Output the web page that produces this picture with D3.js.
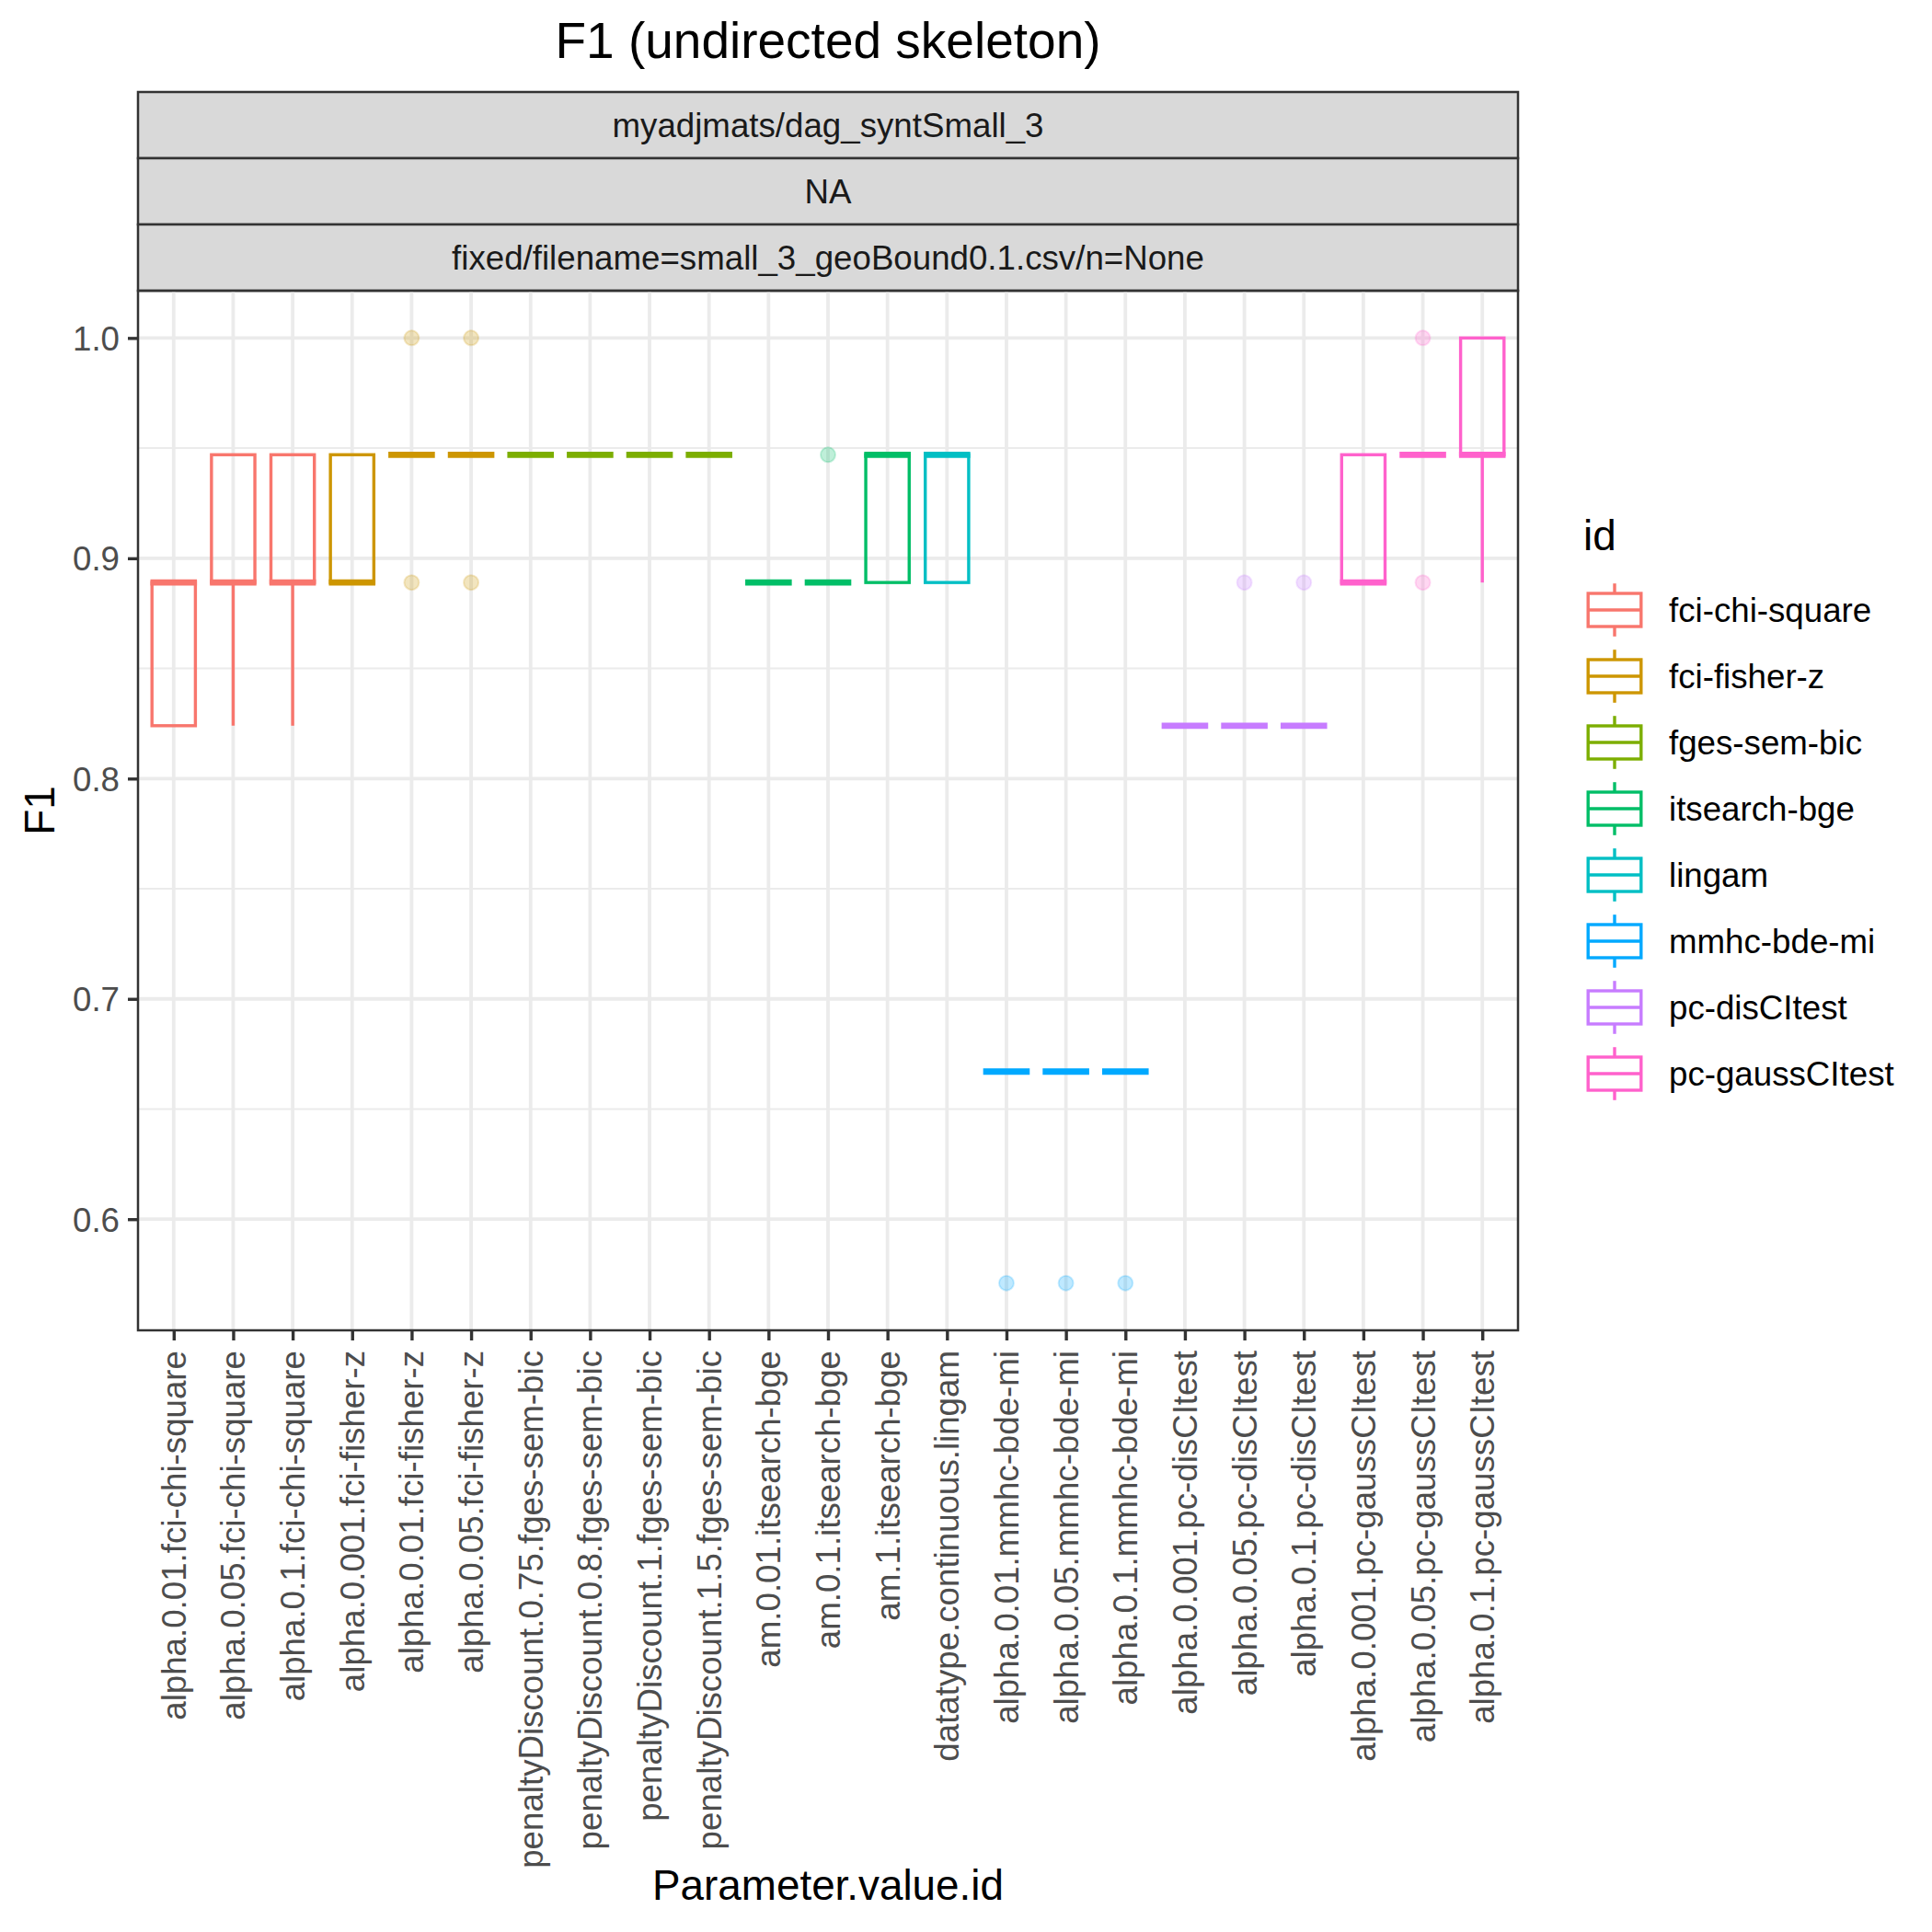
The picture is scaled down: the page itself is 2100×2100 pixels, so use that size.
<!DOCTYPE html>
<html>
<head>
<meta charset="utf-8">
<script src="https://cdn.jsdelivr.net/npm/d3@7"></script>
<style>
  body { margin: 0; background: #fff; }
  svg { font-family: "Liberation Sans", Arial, sans-serif; }
</style>
</head>
<body>
<svg id="chart" width="2100" height="2100"></svg>
<script>
// ---- data ----
const categories = [
  "alpha.0.01.fci-chi-square", "alpha.0.05.fci-chi-square", "alpha.0.1.fci-chi-square",
  "alpha.0.001.fci-fisher-z", "alpha.0.01.fci-fisher-z", "alpha.0.05.fci-fisher-z",
  "penaltyDiscount.0.75.fges-sem-bic", "penaltyDiscount.0.8.fges-sem-bic",
  "penaltyDiscount.1.fges-sem-bic", "penaltyDiscount.1.5.fges-sem-bic",
  "am.0.01.itsearch-bge", "am.0.1.itsearch-bge", "am.1.itsearch-bge",
  "datatype.continuous.lingam",
  "alpha.0.01.mmhc-bde-mi", "alpha.0.05.mmhc-bde-mi", "alpha.0.1.mmhc-bde-mi",
  "alpha.0.001.pc-disCItest", "alpha.0.05.pc-disCItest", "alpha.0.1.pc-disCItest",
  "alpha.0.001.pc-gaussCItest", "alpha.0.05.pc-gaussCItest", "alpha.0.1.pc-gaussCItest"
];
const groups = [
  "fci-chi-square", "fci-chi-square", "fci-chi-square",
  "fci-fisher-z", "fci-fisher-z", "fci-fisher-z",
  "fges-sem-bic", "fges-sem-bic", "fges-sem-bic", "fges-sem-bic",
  "itsearch-bge", "itsearch-bge", "itsearch-bge",
  "lingam",
  "mmhc-bde-mi", "mmhc-bde-mi", "mmhc-bde-mi",
  "pc-disCItest", "pc-disCItest", "pc-disCItest",
  "pc-gaussCItest", "pc-gaussCItest", "pc-gaussCItest"
];
const whiskerLow  = [0.824, 0.824, 0.824, 0.889, 0.947, 0.947, 0.947, 0.947, 0.947, 0.947, 0.889, 0.889, 0.889, 0.889, 0.667, 0.667, 0.667, 0.824, 0.824, 0.824, 0.889, 0.947, 0.889];
const q1          = [0.824, 0.889, 0.889, 0.889, 0.947, 0.947, 0.947, 0.947, 0.947, 0.947, 0.889, 0.889, 0.889, 0.889, 0.667, 0.667, 0.667, 0.824, 0.824, 0.824, 0.889, 0.947, 0.947];
const medians     = [0.889, 0.889, 0.889, 0.889, 0.947, 0.947, 0.947, 0.947, 0.947, 0.947, 0.889, 0.889, 0.947, 0.947, 0.667, 0.667, 0.667, 0.824, 0.824, 0.824, 0.889, 0.947, 0.947];
const q3          = [0.889, 0.947, 0.947, 0.947, 0.947, 0.947, 0.947, 0.947, 0.947, 0.947, 0.889, 0.889, 0.947, 0.947, 0.667, 0.667, 0.667, 0.824, 0.824, 0.824, 0.947, 0.947, 1.0];
const whiskerHigh = [0.889, 0.947, 0.947, 0.947, 0.947, 0.947, 0.947, 0.947, 0.947, 0.947, 0.889, 0.889, 0.947, 0.947, 0.667, 0.667, 0.667, 0.824, 0.824, 0.824, 0.947, 0.947, 1.0];
const outliers = [
  [], [], [], [], [1.0, 0.889], [1.0, 0.889], [], [], [], [],
  [], [0.947], [], [], [0.571], [0.571], [0.571],
  [], [0.889], [0.889], [], [1.0, 0.889], []
];
const legendIds = ["fci-chi-square", "fci-fisher-z", "fges-sem-bic", "itsearch-bge",
                   "lingam", "mmhc-bde-mi", "pc-disCItest", "pc-gaussCItest"];
const legendColors = ["#F8766D", "#CD9600", "#7CAE00", "#00BE67",
                      "#00BFC4", "#00A9FF", "#C77CFF", "#FF61CC"];
const stripLabels = ["myadjmats/dag_syntSmall_3", "NA", "fixed/filename=small_3_geoBound0.1.csv/n=None"];
const yTicks = [0.6, 0.7, 0.8, 0.9, 1.0];
const yMinor = [0.65, 0.75, 0.85, 0.95];

// ---- layout ----
const panel = { left: 150, right: 1650, top: 316, bottom: 1446 };
const stripH = 72;
const stripTop = panel.top - stripH * stripLabels.length;

const svg = d3.select("#chart");
const color = d3.scaleOrdinal().domain(legendIds).range(legendColors);

const x = d3.scalePoint()
  .domain(categories)
  .range([panel.left, panel.right])
  .padding(0.6);

const allVals = whiskerLow.concat(whiskerHigh, outliers.flat());
const [lo, hi] = d3.extent(allVals);
const pad = (hi - lo) * 0.05;
const y = d3.scaleLinear()
  .domain([lo - pad, hi + pad])
  .range([panel.bottom, panel.top]);

// title
svg.append("text")
  .attr("x", (panel.left + panel.right) / 2)
  .attr("y", 63)
  .attr("text-anchor", "middle")
  .style("font-size", "55px")
  .style("fill", "#000")
  .text("F1 (undirected skeleton)");

// strips
stripLabels.forEach((lab, i) => {
  const top = stripTop + i * stripH;
  svg.append("rect")
    .attr("x", panel.left).attr("y", top)
    .attr("width", panel.right - panel.left).attr("height", stripH)
    .style("fill", "#D9D9D9")
    .style("stroke", "#333333")
    .style("stroke-width", 2.5);
  svg.append("text")
    .attr("x", (panel.left + panel.right) / 2)
    .attr("y", top + stripH / 2)
    .attr("text-anchor", "middle")
    .attr("dominant-baseline", "central")
    .style("font-size", "36.7px")
    .style("fill", "#1A1A1A")
    .text(lab);
});

// grid
const grid = svg.append("g").attr("class", "grid");
grid.selectAll("line.minor")
  .data(yMinor)
  .join("line")
    .attr("x1", panel.left).attr("x2", panel.right)
    .attr("y1", d => y(d)).attr("y2", d => y(d))
    .style("stroke", "#EBEBEB")
    .style("stroke-width", 2);
grid.selectAll("line.majory")
  .data(yTicks)
  .join("line")
    .attr("class", "majory")
    .attr("x1", panel.left).attr("x2", panel.right)
    .attr("y1", d => y(d)).attr("y2", d => y(d))
    .style("stroke", "#EBEBEB")
    .style("stroke-width", 3.8);
grid.selectAll("line.majorx")
  .data(categories)
  .join("line")
    .attr("class", "majorx")
    .attr("x1", d => x(d)).attr("x2", d => x(d))
    .attr("y1", panel.top).attr("y2", panel.bottom)
    .style("stroke", "#EBEBEB")
    .style("stroke-width", 3.8);

// boxplots
const boxW = x.step() * 0.73;
const stats = categories.map((c, i) => ({
  cat: c, grp: groups[i],
  lo: whiskerLow[i], q1: q1[i], med: medians[i], q3: q3[i], hi: whiskerHigh[i],
  out: outliers[i]
}));

const boxes = svg.append("g").attr("class", "boxes")
  .selectAll("g")
  .data(stats)
  .join("g");

boxes.append("line")
  .attr("x1", d => x(d.cat)).attr("x2", d => x(d.cat))
  .attr("y1", d => y(d.lo)).attr("y2", d => y(d.q1))
  .style("stroke", d => color(d.grp))
  .style("stroke-width", 3.4);
boxes.append("line")
  .attr("x1", d => x(d.cat)).attr("x2", d => x(d.cat))
  .attr("y1", d => y(d.q3)).attr("y2", d => y(d.hi))
  .style("stroke", d => color(d.grp))
  .style("stroke-width", 3.4);
boxes.append("rect")
  .attr("x", d => x(d.cat) - boxW / 2)
  .attr("y", d => y(d.q3))
  .attr("width", boxW)
  .attr("height", d => y(d.q1) - y(d.q3))
  .style("fill", "none")
  .style("stroke", d => color(d.grp))
  .style("stroke-width", 3.4);
boxes.append("line")
  .attr("x1", d => x(d.cat) - boxW / 2 - 1.7).attr("x2", d => x(d.cat) + boxW / 2 + 1.7)
  .attr("y1", d => y(d.med)).attr("y2", d => y(d.med))
  .style("stroke", d => color(d.grp))
  .style("stroke-width", 6.8);

boxes.selectAll("circle")
  .data(d => d.out.map(v => ({ v, cat: d.cat, grp: d.grp })))
  .join("circle")
    .attr("cx", d => x(d.cat))
    .attr("cy", d => y(d.v))
    .attr("r", 8)
    .style("fill", d => color(d.grp))
    .style("fill-opacity", 0.25)
    .style("stroke", d => color(d.grp))
    .style("stroke-opacity", 0.2)
    .style("stroke-width", 2);

// panel border
svg.append("rect")
  .attr("x", panel.left).attr("y", panel.top)
  .attr("width", panel.right - panel.left)
  .attr("height", panel.bottom - panel.top)
  .style("fill", "none")
  .style("stroke", "#333333")
  .style("stroke-width", 2.5);

// axes
const yAxis = svg.append("g")
  .attr("transform", `translate(${panel.left},0)`)
  .call(d3.axisLeft(y).tickValues(yTicks).tickFormat(d3.format(".1f")).tickSize(11).tickPadding(9));
const xAxis = svg.append("g")
  .attr("transform", `translate(0,${panel.bottom})`)
  .call(d3.axisBottom(x).tickSize(11).tickPadding(9));

[yAxis, xAxis].forEach(a => {
  a.select(".domain").remove();
  a.selectAll(".tick line").style("stroke", "#333333").style("stroke-width", 3.4);
  a.selectAll(".tick text")
    .style("fill", "#4D4D4D")
    .style("font-size", "36.7px")
    .style("font-family", "Liberation Sans, Arial, sans-serif");
});
yAxis.selectAll(".tick text").attr("dy", "0.35em");

xAxis.selectAll(".tick text")
  .attr("y", 0).attr("dy", null)
  .attr("transform", "translate(0,22) rotate(-90)")
  .attr("text-anchor", "end")
  .attr("dominant-baseline", "central");

// axis titles
svg.append("text")
  .attr("x", (panel.left + panel.right) / 2)
  .attr("y", 2065)
  .attr("text-anchor", "middle")
  .style("font-size", "45.8px")
  .text("Parameter.value.id");
svg.append("text")
  .attr("transform", `translate(59,${(panel.top + panel.bottom) / 2}) rotate(-90)`)
  .attr("text-anchor", "middle")
  .style("font-size", "45.8px")
  .text("F1");

// legend
const legX = 1719, legY = 627, keyS = 72;
svg.append("text")
  .attr("x", 1721).attr("y", 598)
  .style("font-size", "45.8px")
  .text("id");

const keys = svg.append("g").attr("class", "legend")
  .selectAll("g")
  .data(legendIds)
  .join("g")
    .attr("transform", (d, i) => `translate(${legX},${legY + i * keyS})`);

keys.append("line")
  .attr("x1", keyS / 2).attr("x2", keyS / 2)
  .attr("y1", keyS * 0.1).attr("y2", keyS * 0.9)
  .style("stroke", d => color(d)).style("stroke-width", 3.4);
keys.append("rect")
  .attr("x", keyS * 0.1).attr("y", keyS * 0.25)
  .attr("width", keyS * 0.8).attr("height", keyS * 0.5)
  .style("fill", "#fff")
  .style("stroke", d => color(d)).style("stroke-width", 3.4);
keys.append("line")
  .attr("x1", keyS * 0.1).attr("x2", keyS * 0.9)
  .attr("y1", keyS / 2).attr("y2", keyS / 2)
  .style("stroke", d => color(d)).style("stroke-width", 3.4);
keys.append("text")
  .attr("x", keyS + 23)
  .attr("y", keyS / 2)
  .attr("dominant-baseline", "central")
  .style("font-size", "36.7px")
  .style("fill", "#000")
  .text(d => d);
</script>
</body>
</html>
